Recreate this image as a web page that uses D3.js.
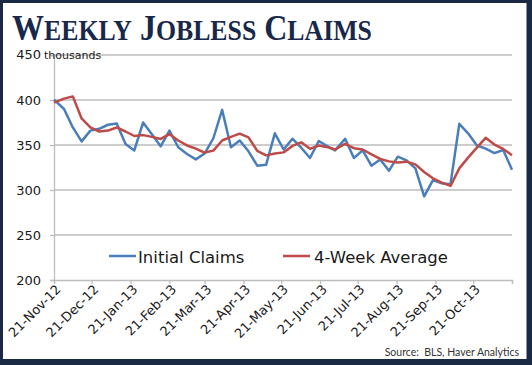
<!DOCTYPE html>
<html>
<head>
<meta charset="utf-8">
<script src="https://cdn.jsdelivr.net/npm/d3@7"></script>
<style>
  html, body { margin: 0; padding: 0; background: #fff; }
  svg { display: block; }
</style>
</head>
<body>
<svg id="chart" width="532" height="365"></svg>
<script>
// ---- data ----
const releaseDates = [
  "2012-11-21","2012-11-29","2012-12-06","2012-12-13","2012-12-20","2012-12-27",
  "2013-01-03","2013-01-10","2013-01-17","2013-01-24","2013-01-31",
  "2013-02-07","2013-02-14","2013-02-21","2013-02-28",
  "2013-03-07","2013-03-14","2013-03-21","2013-03-28",
  "2013-04-04","2013-04-11","2013-04-18","2013-04-25",
  "2013-05-02","2013-05-09","2013-05-16","2013-05-23","2013-05-30",
  "2013-06-06","2013-06-13","2013-06-20","2013-06-27",
  "2013-07-03","2013-07-11","2013-07-18","2013-07-25",
  "2013-08-01","2013-08-08","2013-08-15","2013-08-22","2013-08-29",
  "2013-09-05","2013-09-12","2013-09-19","2013-09-26",
  "2013-10-03","2013-10-10","2013-10-17","2013-10-24","2013-10-31",
  "2013-11-07","2013-11-14","2013-11-21"
];
const initialClaims = [
  400.5, 390, 369.5, 354, 366, 368,
  372.5, 374, 351, 344, 375,
  362, 348.5, 366, 347.5,
  340, 334, 340.5, 357.5,
  389, 347.5, 355, 343,
  327, 328, 363, 345, 357,
  347, 335.5, 354.5, 348.5,
  344, 357, 335.5, 344,
  327, 334, 321.5, 337, 333,
  324, 293, 311, 307.5,
  306.5, 373.5, 363, 349.5, 346,
  341, 344.5, 322.5
];
const fourWeekAverage = [
  397, 401.5, 404, 379.5, 369.5, 365,
  366, 369.5, 365, 360, 361,
  359, 356.7, 362, 355,
  349.5, 346, 341.5, 343.8,
  355, 359, 362.6, 358.5,
  343.5, 338.5, 340.5, 341.8, 349,
  353, 345.7, 349.4, 347.6,
  345, 351.3, 346.4, 345,
  339.5, 334.5, 331.8, 330.5, 331.5,
  328.5, 320, 313, 308.2,
  304.5, 324, 336, 347, 358,
  350.5, 345.6, 338.7
];
const yTicks = [200, 250, 300, 350, 400, 450];
const xTickDates = [
  "2012-11-21","2012-12-21","2013-01-21","2013-02-21","2013-03-21","2013-04-21",
  "2013-05-21","2013-06-21","2013-07-21","2013-08-21","2013-09-21","2013-10-21","2013-11-21"
];
const xTickLabels = [
  "21-Nov-12","21-Dec-12","21-Jan-13","21-Feb-13","21-Mar-13","21-Apr-13",
  "21-May-13","21-Jun-13","21-Jul-13","21-Aug-13","21-Sep-13","21-Oct-13",""
];
const seriesNames = ["Initial Claims", "4-Week Average"];
const seriesColors = ["#4a7ebb", "#be4b48"];

// ---- drawing ----
(function () {
const parse = d3.timeParse("%Y-%m-%d");
const dates = releaseDates.map(parse);
const tickDates = xTickDates.map(parse);

const svg = d3.select("#chart");
const W = 532, H = 365;

// frame
svg.append("rect").attr("x", 0).attr("y", 0).attr("width", W).attr("height", H).attr("fill", "#1b2a44");
svg.append("rect").attr("x", 3).attr("y", 3).attr("width", 523.5).attr("height", 356).attr("fill", "#ffffff");

const pLeft = 54, pRight = 512, pTop = 55, pBottom = 280;
const x = d3.scaleTime().domain([tickDates[0], tickDates[tickDates.length - 1]]).range([pLeft, pRight]);
const y = d3.scaleLinear().domain([200, 450]).range([pBottom, pTop]);

// gridlines
svg.append("g").selectAll("line").data(yTicks.filter(t => t > 200)).join("line")
  .attr("x1", pLeft).attr("x2", pRight)
  .attr("y1", d => y(d)).attr("y2", d => y(d))
  .attr("stroke", "#bdbdbd").attr("stroke-width", 1.3);

// y axis
const yAxis = svg.append("g").attr("transform", `translate(${pLeft},0)`)
  .call(d3.axisLeft(y).tickValues(yTicks).tickSize(4).tickPadding(9).tickFormat(d => d === 450 ? "" : d));
yAxis.select(".domain").attr("stroke", "#bdbdbd").attr("stroke-width", 1.3);
yAxis.selectAll(".tick line").attr("stroke", "#bdbdbd").attr("stroke-width", 1.3);
yAxis.selectAll(".tick text").attr("font-family", "DejaVu Sans").attr("font-size", 13).attr("fill", "#1a1a1a");

// "450 thousands" label
svg.append("text").attr("x", 41).attr("y", 59).attr("text-anchor", "end")
  .attr("font-family", "DejaVu Sans").attr("font-size", 13).attr("fill", "#1a1a1a").text("450");
svg.append("text").attr("x", 44).attr("y", 59).attr("font-family", "DejaVu Sans").attr("font-size", 11)
  .attr("fill", "#1a1a1a").text("thousands");

// x axis
const xAxis = svg.append("g").attr("transform", `translate(0,${pBottom})`)
  .call(d3.axisBottom(x).tickValues(tickDates).tickSize(4).tickFormat((d, i) => xTickLabels[i]));
xAxis.select(".domain").attr("stroke", "#bdbdbd").attr("stroke-width", 1.3);
xAxis.selectAll(".tick line").attr("stroke", "#bdbdbd").attr("stroke-width", 1.3);
xAxis.selectAll(".tick text")
  .attr("font-family", "DejaVu Sans").attr("font-size", 13).attr("fill", "#1a1a1a")
  .attr("text-anchor", "end")
  .attr("transform", "translate(4,7) rotate(-45)")
  .attr("y", 0).attr("dy", "0.35em").attr("x", 0);

// lines
const seriesData = [initialClaims, fourWeekAverage];
const line = d3.line().x((d, i) => x(dates[i])).y(d => y(d));
seriesData.forEach((vals, k) => {
  svg.append("path").datum(vals)
    .attr("fill", "none").attr("stroke", seriesColors[k]).attr("stroke-width", 2.5)
    .attr("stroke-linejoin", "round")
    .attr("d", line);
});

// legend
const legendItems = [{x: 109, tx: 138}, {x: 283, tx: 314}];
legendItems.forEach((it, k) => {
  svg.append("line").attr("x1", it.x).attr("x2", it.x + 27).attr("y1", 256).attr("y2", 256)
    .attr("stroke", seriesColors[k]).attr("stroke-width", 2.5);
  svg.append("text").attr("x", it.tx).attr("y", 262.5)
    .attr("font-family", "DejaVu Sans").attr("font-size", 16.5).attr("fill", "#1a1a1a")
    .text(seriesNames[k]);
});

// title in small caps
const titleWords = ["Weekly", "Jobless", "Claims"];
const title = svg.append("text").attr("x", 12).attr("y", 40)
  .attr("font-family", "Liberation Serif").attr("font-weight", "bold").attr("fill", "#18284a");
titleWords.forEach((w, i) => {
  title.append("tspan").attr("font-size", 36).text((i > 0 ? " " : "") + w[0].toUpperCase());
  title.append("tspan").attr("font-size", 29).text(w.slice(1).toUpperCase());
});
const tw = title.node().getComputedTextLength();
const sx = 360 / tw;
title.attr("transform", `translate(12,0) scale(${sx},1) translate(-12,0)`);

// source
svg.append("text").attr("x", 519).attr("y", 356).attr("text-anchor", "end")
  .attr("font-family", "Lato").attr("font-size", 10.5).attr("fill", "#333")
  .attr("xml:space", "preserve")
  .text("Source:  BLS, Haver Analytics");
})();
</script>
</body>
</html>
